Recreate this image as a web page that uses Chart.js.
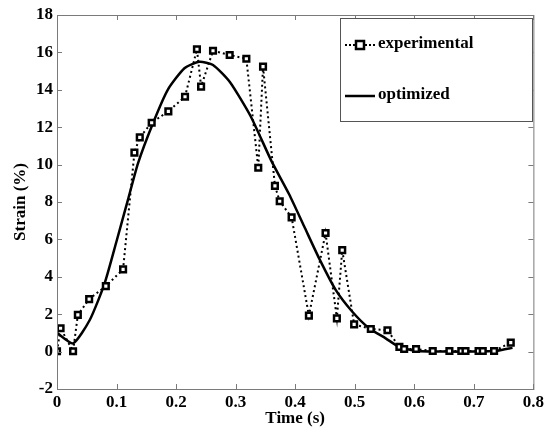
<!DOCTYPE html>
<html>
<head>
<meta charset="utf-8">
<script src="https://cdn.jsdelivr.net/npm/chart.js@4.4.0/dist/chart.umd.min.js"></script>
<style>
  html, body { margin: 0; padding: 0; background: #fff; }
  #wrap { width: 547px; height: 429px; position: relative; }
</style>
</head>
<body>
<div id="wrap"><canvas id="strainChart"></canvas></div>
<script>
// experimental measurements
const expTime = [0, 0.006, 0.027, 0.035, 0.054, 0.082, 0.111, 0.13, 0.139, 0.159, 0.187, 0.215,
  0.235, 0.242, 0.262, 0.29, 0.318, 0.338, 0.346, 0.366, 0.374, 0.394, 0.423, 0.451, 0.47,
  0.479, 0.499, 0.527, 0.555, 0.575, 0.583, 0.603, 0.631, 0.659, 0.679, 0.686, 0.708, 0.715,
  0.734, 0.762];
const expStrain = [0.02, 1.25, 0.02, 1.96, 2.81, 3.5, 4.4, 10.64, 11.46, 12.24, 12.85, 13.63,
  16.17, 14.17, 16.09, 15.86, 15.66, 9.83, 15.24, 8.86, 8.04, 7.18, 1.92, 6.34, 1.78,
  5.43, 1.46, 1.21, 1.14, 0.25, 0.14, 0.14, 0.03, 0.03, 0.03, 0.03, 0.03, 0.03,
  0.03, 0.48];

// optimized model
const optTime = [0, 0.027, 0.055, 0.08, 0.1, 0.119, 0.136, 0.161, 0.186, 0.214, 0.239, 0.262,
  0.29, 0.325, 0.36, 0.39, 0.415, 0.44, 0.468, 0.496, 0.524, 0.552, 0.574, 0.6, 0.65, 0.7,
  0.74, 0.765];
const optStrain = [1.0, 0.44, 1.69, 3.65, 5.9, 8.1, 10.07, 12.2, 14.0, 15.15, 15.5, 15.33,
  14.43, 12.6, 10.2, 8.4, 6.7, 5.0, 3.3, 2.13, 1.25, 0.71, 0.26, 0.05, 0.0, 0.0,
  0.05, 0.2];

const xTicks = [0, 0.1, 0.2, 0.3, 0.4, 0.5, 0.6, 0.7, 0.8];
const yTicks = [-2, 0, 2, 4, 6, 8, 10, 12, 14, 16, 18];

const serif = "'Liberation Serif', 'DejaVu Serif', serif";
const axisGray = '#7a7a7a';

function toPoints(xs, ys) {
  return xs.map((x, i) => ({ x: x, y: ys[i] }));
}

// box + inward ticks, MATLAB style, plus the legend box
const frame = {
  id: 'frame',
  afterDraw(chart) {
    const { ctx, chartArea: a, scales } = chart;
    ctx.save();
    ctx.strokeStyle = axisGray;
    ctx.lineWidth = 1;
    ctx.strokeRect(a.left + 0.5, a.top + 0.5, a.right - a.left, a.bottom - a.top);
    ctx.beginPath();
    xTicks.forEach(v => {
      const px = Math.round(scales.x.getPixelForValue(v)) + 0.5;
      ctx.moveTo(px, a.bottom); ctx.lineTo(px, a.bottom - 5);
      ctx.moveTo(px, a.top); ctx.lineTo(px, a.top + 5);
    });
    yTicks.forEach(v => {
      const py = Math.round(scales.y.getPixelForValue(v)) + 0.5;
      ctx.moveTo(a.left, py); ctx.lineTo(a.left + 5, py);
      ctx.moveTo(a.right, py); ctx.lineTo(a.right - 5, py);
    });
    ctx.stroke();

    // legend
    const lx = 340, ly = 18, lw = 192, lh = 103;
    ctx.fillStyle = '#fff';
    ctx.fillRect(lx, ly, lw, lh);
    ctx.strokeStyle = '#555';
    ctx.strokeRect(lx + 0.5, ly + 0.5, lw, lh);

    ctx.strokeStyle = '#000';
    ctx.lineWidth = 2;
    ctx.setLineDash([2, 2]);
    ctx.beginPath();
    ctx.moveTo(345, 45); ctx.lineTo(375, 45);
    ctx.stroke();
    ctx.setLineDash([]);
    ctx.fillStyle = '#fff';
    ctx.lineWidth = 2.5;
    ctx.fillRect(356, 41, 8, 8);
    ctx.strokeRect(356, 41, 8, 8);

    ctx.lineWidth = 2.5;
    ctx.beginPath();
    ctx.moveTo(345, 96); ctx.lineTo(375, 96);
    ctx.stroke();

    ctx.fillStyle = '#000';
    ctx.font = 'bold 17px ' + serif;
    ctx.textBaseline = 'middle';
    ctx.textAlign = 'left';
    ctx.fillText('experimental', 378, 44);
    ctx.fillText('optimized', 378, 95);
    ctx.restore();
  }
};

new Chart(document.getElementById('strainChart'), {
  type: 'scatter',
  data: {
    datasets: [
      {
        label: 'experimental',
        data: toPoints(expTime, expStrain),
        showLine: true,
        borderColor: '#000',
        borderWidth: 2,
        borderDash: [2, 3],
        pointStyle: 'rect',
        pointRadius: 4,
        pointBorderWidth: 2.5,
        pointBorderColor: '#000',
        pointBackgroundColor: '#fff',
        order: 1
      },
      {
        label: 'optimized',
        data: toPoints(optTime, optStrain),
        showLine: true,
        borderColor: '#000',
        borderWidth: 2.5,
        pointRadius: 0,
        tension: 0.2,
        order: 2
      }
    ]
  },
  options: {
    responsive: true,
    maintainAspectRatio: false,
    animation: false,
    layout: { padding: { top: 15, right: 12, left: 0, bottom: 0 } },
    plugins: {
      legend: { display: false },
      tooltip: { enabled: false }
    },
    scales: {
      x: {
        type: 'linear',
        min: 0,
        max: 0.8,
        afterFit(scale) { scale.height = 40; },
        afterBuildTicks(scale) { scale.ticks = xTicks.map(v => ({ value: v })); },
        grid: { display: false, drawTicks: false },
        border: { display: false },
        ticks: {
          color: '#000',
          padding: 3,
          font: { family: serif, size: 17, weight: 'bold' },
          callback: v => String(v)
        },
        title: {
          display: true,
          text: 'Time (s)',
          color: '#000',
          padding: { top: 0, bottom: 0 },
          font: { family: serif, size: 17, weight: 'bold' }
        }
      },
      y: {
        min: -2,
        max: 18,
        afterFit(scale) { scale.width = 57; },
        afterBuildTicks(scale) { scale.ticks = yTicks.map(v => ({ value: v })); },
        grid: { display: false, drawTicks: false },
        border: { display: false },
        ticks: {
          color: '#000',
          padding: 4,
          font: { family: serif, size: 17, weight: 'bold' },
          callback: v => String(v)
        },
        title: {
          display: true,
          text: 'Strain (%)',
          color: '#000',
          padding: { top: 10, bottom: 0 },
          font: { family: serif, size: 17, weight: 'bold' }
        }
      }
    }
  },
  plugins: [frame]
});
</script>
</body>
</html>
